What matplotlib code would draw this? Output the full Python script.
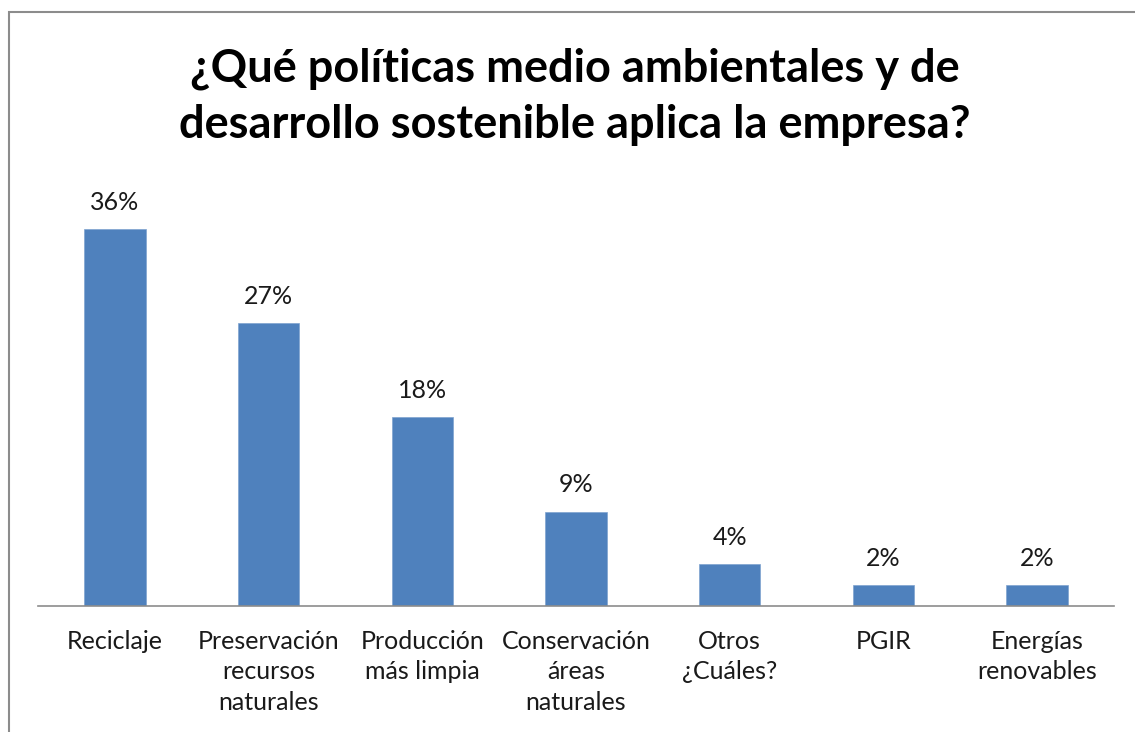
import matplotlib
matplotlib.use('AGG')
import matplotlib.pyplot as plt
from matplotlib.patches import Rectangle

categories = ["Reciclaje", "Preservación\nrecursos\nnaturales", "Producción\nmás limpia",
              "Conservación\náreas\nnaturales", "Otros\n¿Cuáles?", "PGIR", "Energías\nrenovables"]
percentages = [36, 27, 18, 9, 4, 2, 2]
title = "¿Qué políticas medio ambientales y de\ndesarrollo sostenible aplica la empresa?"

plt.rcParams['font.family'] = ['Lato', 'DejaVu Sans']

W, H = 1135, 732
fig = plt.figure(figsize=(W / 100, H / 100), dpi=100)

# chart frame (grey border along top and left)
fig.patches.append(Rectangle((9 / W, -0.1), 1.2, 1 - 12 / H + 0.1, transform=fig.transFigure,
                             fill=False, edgecolor='#8c8c8c', linewidth=1.5))

# plot area: baseline at y=606, 36% bar top at y=229
left, right = 38 / W, 1114 / W
base = 606
top = 187
ax = fig.add_axes([left, 1 - base / H, right - left, (base - top) / H])
ax.set_ylim(0, 40)
ax.set_xlim(-0.5, len(categories) - 0.5)

x = range(len(categories))
bars = ax.bar(x, percentages, width=0.4, color='#4F81BD', edgecolor='#7fa3d0', linewidth=0.5)

for xi, v in zip(x, percentages):
    ax.annotate(f"{v}%", (xi, v), xytext=(0, 11), textcoords='offset points',
                ha='center', va='bottom', fontsize=18, color='#1a1a1a')

ax.set_xticks(list(x))
ax.set_xticklabels(categories, fontsize=18, color='#1a1a1a', linespacing=1.4, va='top')
ax.tick_params(axis='x', length=0, pad=17)
ax.set_yticks([])
for s in ['top', 'right', 'left']:
    ax.spines[s].set_visible(False)
ax.spines['bottom'].set_color('#8c8c8c')
ax.spines['bottom'].set_linewidth(1.2)

fig.text(575 / W, 1 - 97 / H, title, ha='center', va='center', fontsize=32.5,
         fontweight='bold', linespacing=1.4, color='#000000')

fig.savefig('out.png', dpi=100)
